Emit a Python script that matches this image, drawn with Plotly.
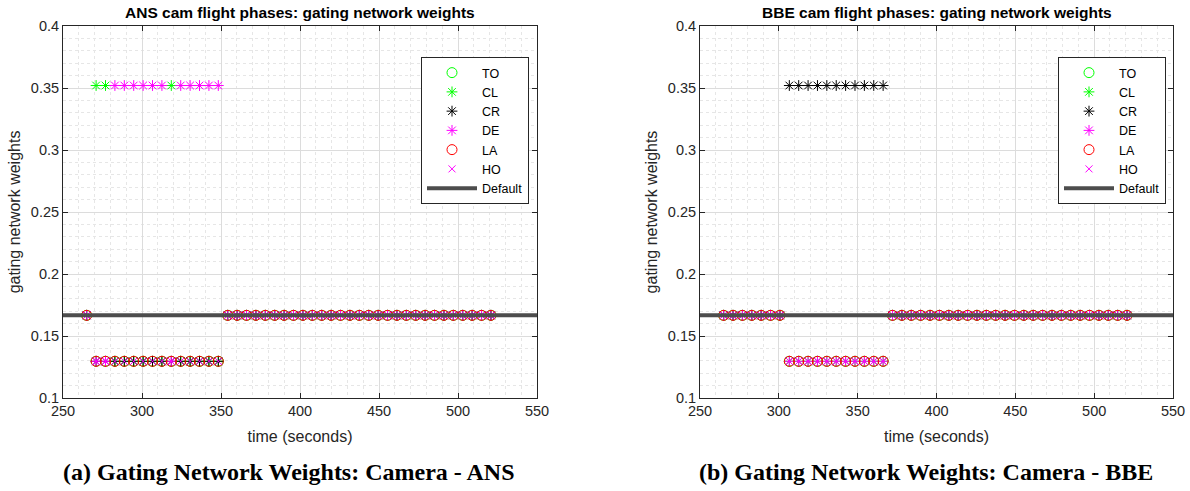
import plotly.graph_objects as go

# Sample times (seconds) shared by both camera runs
times = [265.0, 270.95, 276.9, 282.85, 288.8, 294.75, 300.7, 306.65, 312.6, 318.55,
         324.5, 330.45, 336.4, 342.35, 348.3, 354.25, 360.2, 366.15, 372.1, 378.05,
         384.0, 389.95, 395.9, 401.85, 407.8, 413.75, 419.7, 425.65, 431.6, 437.55,
         443.5, 449.45, 455.4, 461.35, 467.3, 473.25, 479.2, 485.15, 491.1, 497.05,
         503.0, 508.95, 514.9, 520.85]

phases = ["TO", "CL", "CR", "DE", "LA", "HO"]

# Dominant phase chosen by the gating network at each sample ("-" = uniform weights)
ans_dominant = ["-",
                "CL", "CL", "DE", "DE", "DE", "DE", "DE", "DE", "CL", "DE", "DE", "DE", "DE", "DE",
                "-", "-", "-", "-", "-", "-", "-", "-", "-", "-", "-", "-", "-", "-", "-",
                "-", "-", "-", "-", "-", "-", "-", "-", "-", "-", "-", "-", "-", "-"]
bbe_dominant = ["-", "-", "-", "-", "-", "-", "-",
                "CR", "CR", "CR", "CR", "CR", "CR", "CR", "CR", "CR", "CR", "CR",
                "-", "-", "-", "-", "-", "-", "-", "-", "-", "-", "-", "-", "-", "-", "-",
                "-", "-", "-", "-", "-", "-", "-", "-", "-", "-", "-"]

w_high = 0.352      # weight of the selected expert
w_low = 0.1296      # weight of each remaining expert
w_uniform = 1 / 6   # default (uniform) weight

x_range = [250, 550]
y_range = [0.1, 0.4]
x_ticks = [250, 300, 350, 400, 450, 500, 550]
y_ticks = [0.1, 0.15, 0.2, 0.25, 0.3, 0.35, 0.4]
y_tick_text = ["0.1", "0.15", "0.2", "0.25", "0.3", "0.35", "0.4"]

titles = ["ANS cam flight phases: gating network weights",
          "BBE cam flight phases: gating network weights"]
captions = ["(a) Gating Network Weights: Camera - ANS",
            "(b) Gating Network Weights: Camera - BBE"]

styles = {
    "TO": dict(symbol="circle-open", color="#00ff00", size=10),
    "CL": dict(symbol="asterisk-open", color="#00ff00", size=9),
    "CR": dict(symbol="asterisk-open", color="#000000", size=9),
    "DE": dict(symbol="asterisk-open", color="#ff00ff", size=9),
    "LA": dict(symbol="circle-open", color="#ff0000", size=10),
    "HO": dict(symbol="x-thin-open", color="#ff00ff", size=7),
}

W, H = 1190, 491
axes_px = [(63, 537), (700, 1173)]
top_px, bot_px = 26, 398
legend_px = [421, 1058]

AX = "#262626"
FONT = "Liberation Sans, Arial, sans-serif"

fig = go.Figure()


def weights_for(dominant, phase):
    out = []
    for d in dominant:
        if d == "-":
            out.append(w_uniform)
        elif d == phase:
            out.append(w_high)
        else:
            out.append(w_low)
    return out


for i, dominant in enumerate([ans_dominant, bbe_dominant]):
    xa = "x" if i == 0 else "x2"
    ya = "y" if i == 0 else "y2"
    lg = "legend" if i == 0 else "legend2"
    for ph in phases:
        st = styles[ph]
        fig.add_trace(go.Scatter(
            x=times, y=weights_for(dominant, ph), mode="markers", name=ph,
            xaxis=xa, yaxis=ya, legend=lg,
            marker=dict(symbol=st["symbol"], size=st["size"], color=st["color"],
                        line=dict(color=st["color"], width=1)),
        ))
    fig.add_trace(go.Scatter(
        x=x_range, y=[w_uniform, w_uniform], mode="lines", name="Default",
        xaxis=xa, yaxis=ya, legend=lg,
        line=dict(color="#4d4d4d", width=4),
    ))

layout = dict(
    width=W, height=H,
    margin=dict(l=0, r=0, t=0, b=0),
    paper_bgcolor="white", plot_bgcolor="white",
    font=dict(family=FONT, size=14, color=AX),
    showlegend=True,
)

for i, (x0, x1) in enumerate(axes_px):
    sfx = "" if i == 0 else "2"
    layout["xaxis" + sfx] = dict(
        domain=[x0 / W, x1 / W], range=x_range, anchor="y" + sfx, automargin=False,
        tickvals=x_ticks, ticks="inside", ticklen=5, tickcolor=AX,
        showline=True, linecolor=AX, linewidth=1, mirror="ticks",
        showgrid=True, gridcolor="#dcdcdc", gridwidth=1, zeroline=False,
        tickfont=dict(size=14.5, color=AX),
        title=dict(text="time (seconds)", font=dict(size=16, color=AX), standoff=12),
        minor=dict(dtick=10, showgrid=True, gridcolor="#e6e6e6", griddash="dot", ticks=""),
    )
    layout["yaxis" + sfx] = dict(
        domain=[1 - bot_px / H, 1 - top_px / H], range=y_range, anchor="x" + sfx,
        automargin=False,
        tickvals=y_ticks, ticktext=y_tick_text,
        ticks="inside", ticklen=5, tickcolor=AX,
        showline=True, linecolor=AX, linewidth=1, mirror="ticks",
        showgrid=True, gridcolor="#dcdcdc", gridwidth=1, zeroline=False,
        tickfont=dict(size=14.5, color=AX),
        title=dict(text="gating network weights", font=dict(size=16, color=AX), standoff=6),
        minor=dict(dtick=0.01, showgrid=True, gridcolor="#e6e6e6", griddash="dot", ticks=""),
    )
    lg = "legend" if i == 0 else "legend2"
    layout[lg] = dict(
        x=legend_px[i] / W, y=1 - 57 / H, xanchor="left", yanchor="top",
        bgcolor="white", bordercolor=AX, borderwidth=1,
        font=dict(size=12.5, color="#000000", family=FONT),
        tracegroupgap=0, itemwidth=50,
    )

annotations = []
for i, (x0, x1) in enumerate(axes_px):
    cx = (x0 + x1) / 2 / W
    annotations.append(dict(
        text="<b>" + titles[i] + "</b>", x=cx, y=1 - 13 / H, xref="paper", yref="paper",
        showarrow=False, font=dict(size=15.5, color="#000000", family=FONT),
        xanchor="center", yanchor="middle"))
    annotations.append(dict(
        text="<b>" + captions[i] + "</b>", x=cx - 11 / W, y=1 - 472 / H, xref="paper", yref="paper",
        showarrow=False, font=dict(size=24, color="#000000",
                                   family="Liberation Serif, Times New Roman, serif"),
        xanchor="center", yanchor="middle"))
layout["annotations"] = annotations

fig.update_layout(**layout)
fig.write_html("out.html")
